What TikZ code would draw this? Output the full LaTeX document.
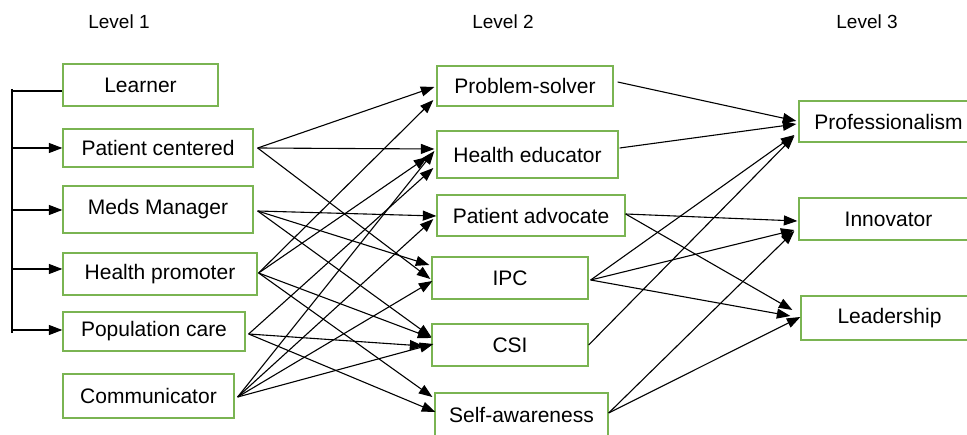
\documentclass[tikz,border=0pt]{standalone}
\usepackage{fontspec}
\setmainfont{Liberation Sans}
\usetikzlibrary{arrows.meta,calc}
\definecolor{boxgreen}{RGB}{122,180,82}
\begin{document}
\begin{tikzpicture}[x=1pt,y=-1pt,
  box/.style={draw=boxgreen,line width=1.3pt,inner sep=0pt,font=\fontsize{21}{25}\selectfont},
  lvl/.style={font=\fontsize{19}{23}\selectfont,inner sep=0pt},
  arr/.style={-{Triangle[length=13.5pt,width=10pt]},line width=1.1pt},
  plain/.style={line width=1.1pt}]
\useasboundingbox (0,0) rectangle (967,435);
\clip (0,0) rectangle (967,435);
% level titles
\node[lvl] (l1) at (119,22) {Level 1};
\node[lvl] (l2) at (503,22) {Level 2};
\node[lvl] (l3) at (867,22) {Level 3};
% level 1
\node[box,minimum width=155pt,minimum height=42pt] (lea) at (140.5,85) {Learner};
\node[box,minimum width=190pt,minimum height=38pt] (pc) at (158,148) {Patient centered};
\node[box,minimum width=190pt,minimum height=47pt] (mm) at (158,209.5) {Meds Manager};
\node[box,minimum width=194pt,minimum height=42pt] (hp) at (160,274) {Health promoter};
\node[box,minimum width=182pt,minimum height=39pt] (pop) at (154,331.5) {Population care};
\node[box,minimum width=171pt,minimum height=44pt] (com) at (148.5,396) {Communicator};
% level 2
\node[box,minimum width=176pt,minimum height=40pt] (ps) at (525,86) {Problem-solver};
\node[box,minimum width=181pt,minimum height=47pt] (he) at (527.5,154.5) {Health educator};
\node[box,minimum width=188pt,minimum height=41pt] (pa) at (531,215.5) {Patient advocate};
\node[box,minimum width=156pt,minimum height=42pt] (ipc) at (510,278) {IPC};
\node[box,minimum width=156pt,minimum height=42pt] (csi) at (510,345) {CSI};
\node[box,minimum width=173pt,minimum height=44pt] (sa) at (521.5,415) {Self-awareness};
% level 3
\node[box,minimum width=179pt,minimum height=41pt] (prof) at (888.5,121.5) {Professionalism};
\node[box,minimum width=179pt,minimum height=42pt] (inn) at (888.5,219) {Innovator};
\node[box,minimum width=177pt,minimum height=44pt] (lead) at (889.5,318) {Leadership};
% left bracket
\coordinate (btop) at (12,89);
\coordinate (bbot) at (12,333);
\draw[plain] (btop) -- (bbot);
\draw[plain] (12,91) -- (12,91 -| lea.west);
\draw[arr] (12,148) -- (12,148 -| pc.west);
\draw[arr] (12,210) -- (12,210 -| mm.west);
\draw[arr] (12,269) -- (12,269 -| hp.west);
\draw[arr] (12,330) -- (12,330 -| pop.west);
% level 1 -> level 2
\coordinate (sPC) at ($(pc.east)+(4,0)$);
\coordinate (sMM) at ($(mm.east)+(4,1.5)$);
\coordinate (sHP) at ($(hp.east)+(1,-1)$);
\coordinate (sPOP) at ($(pop.east)+(3,2.5)$);
\coordinate (sCOM) at ($(com.east)+(3,1)$);
\draw[arr] (sPC) -- ($(ps.west)+(-2,1)$);
\draw[arr] (sPC) -- ($(he.west)+(-2,-5.5)$);
\draw[arr] (sPC) -- ($(ipc.west)+(-1,1)$);
\draw[arr] (sMM) -- ($(pa.west)+(0,0.5)$);
\draw[arr] (sMM) -- ($(ipc.west)+(-2,-13)$);
\draw[arr] (sMM) -- ($(csi.west)+(0,-8)$);
\draw[arr] (sHP) -- ($(ps.west)+(-3,14)$);
\draw[arr] (sHP) -- ($(he.west)+(-9,2.5)$);
\draw[arr] (sHP) -- ($(csi.west)+(0,-7)$);
\draw[arr] (sHP) -- ($(sa.west)+(-2,-18)$);
\draw[arr] (sPOP) -- ($(he.west)+(-3,13.5)$);
\draw[arr] (sPOP) -- ($(csi.west)+(-8,1)$);
\draw[arr] (sPOP) -- ($(sa.west)+(1,-3)$);
\draw[arr] (sCOM) -- ($(he.west)+(-2,-3.5)$);
\draw[arr] (sCOM) -- ($(pa.west)+(-3,3.5)$);
\draw[arr] (sCOM) -- ($(ipc.west)+(1,3)$);
\draw[arr] (sCOM) -- ($(csi.west)+(2,-1)$);
% level 2 -> level 3
\coordinate (sPS) at ($(ps.east)+(4,-4)$);
\coordinate (sHE) at ($(he.east)+(1,-6.5)$);
\coordinate (sPA) at ($(pa.east)+(0,-1.5)$);
\coordinate (sIPC) at ($(ipc.east)+(2,2)$);
\coordinate (sCSI) at ($(csi.east)+(0,0)$);
\coordinate (sSA) at ($(sa.east)+(0,-2)$);
\draw[arr] (sPS) -- ($(prof.west)+(-2,-0.5)$);
\draw[arr] (sHE) -- ($(prof.west)+(-2,2.5)$);
\draw[arr] (sIPC) -- ($(prof.west)+(-4,13.5)$);
\draw[arr] (sCSI) -- ($(prof.west)+(-4,14.5)$);
\draw[arr] (sPA) -- ($(inn.west)+(-1,2)$);
\draw[arr] (sIPC) -- ($(inn.west)+(-4,11)$);
\draw[arr] (sSA) -- ($(inn.west)+(-4,12)$);
\draw[arr] (sPA) -- ($(lead.west)+(-8,-8)$);
\draw[arr] (sIPC) -- ($(lead.west)+(-10,-2)$);
\draw[arr] (sSA) -- ($(lead.west)+(0,-1)$);
\end{tikzpicture}
\end{document}
